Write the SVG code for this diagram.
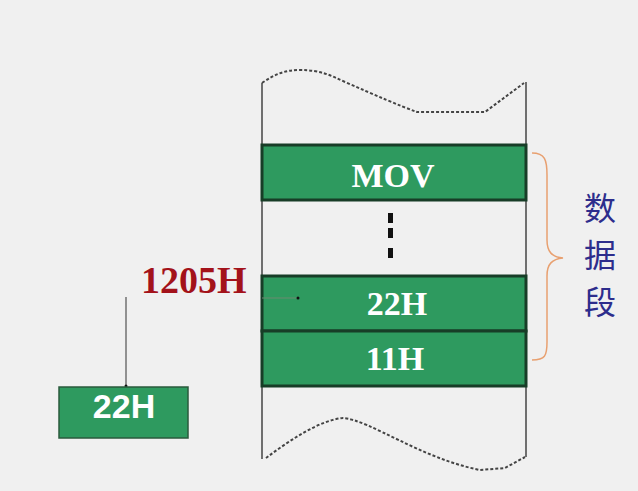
<svg xmlns="http://www.w3.org/2000/svg" width="638" height="491" viewBox="0 0 638 491">
<style>
.band{fill:#2e9a5f;stroke:#173d27;stroke-width:3}
.bt{font-family:"Liberation Serif",serif;font-weight:bold;font-size:34px;fill:#fff;text-anchor:middle}
.wave{fill:none;stroke:#444;stroke-width:2;stroke-dasharray:3 2}
.wall{stroke:#444;stroke-width:1.5;fill:none}
.thin{stroke:#333;stroke-width:1;fill:none}
.cn{font-family:"Noto Sans CJK SC",sans-serif;font-size:32px;fill:#2d2d8c;text-anchor:middle}
</style>
<rect width="638" height="491" fill="#f0f0f0"/>
<g id="memory">
<path class="wave" d="M262,83 C275,74 285,70 300,70 C320,70 330,75 345,82 C375,95 400,106 417,112 L485,112 L524,83"/>
<path class="wave" d="M266,458 C290,440 320,420 343,418 C370,420 420,458 480,470 L505,468 L525,457"/>
<line class="wall" x1="262" y1="83" x2="262" y2="459"/>
<line class="wall" x1="526" y1="82" x2="526" y2="457"/>
</g>
<g id="mov">
<rect class="band" x="262" y="145" width="264" height="55"/>
<text class="bt" x="393" y="187">MOV</text>
</g>
<g id="dots">
<rect x="388" y="213" width="5" height="10" fill="#111"/>
<rect x="388" y="228" width="5" height="10" fill="#111"/>
<rect x="388" y="248" width="5" height="10" fill="#111"/>
</g>
<g id="b22">
<rect class="band" x="262" y="276" width="264" height="55"/>
<text class="bt" x="397" y="315">22H</text>
</g>
<g id="b11">
<rect class="band" x="262" y="331" width="264" height="55"/>
<text class="bt" x="395" y="370">11H</text>
</g>
<g id="brace">
<path d="M532,153 C545,153 547,160 547,175 L547,240 C547,252 552,257 563,258 C552,259 547,264 547,276 L547,342 C547,356 545,360 532,360" fill="none" stroke="#e8a070" stroke-width="1.5"/>
<text class="cn" x="600" y="220">数</text>
<text class="cn" x="600" y="267">据</text>
<text class="cn" x="600" y="314">段</text>
</g>
<g id="addr">
<text x="141" y="293" font-family="'Liberation Serif',serif" font-weight="bold" font-size="38" fill="#a3121a">1205H</text>
</g>
<g id="connectors">
<line x1="262" y1="298" x2="298" y2="298" stroke="#6a8a70" stroke-width="1"/>
<circle cx="298" cy="298" r="1.5" fill="#111"/>
<line class="thin" x1="126" y1="297" x2="126" y2="386"/>
<circle cx="126" cy="386" r="1.5" fill="#111"/>
</g>
<g id="reg">
<rect x="59" y="387" width="129" height="51" fill="#2e9a5f" stroke="#2a5a3c" stroke-width="1.5"/>
<text x="124" y="418" font-family="'Liberation Sans',sans-serif" font-weight="bold" font-size="34" fill="#fff" text-anchor="middle">22H</text>
</g>
</svg>
